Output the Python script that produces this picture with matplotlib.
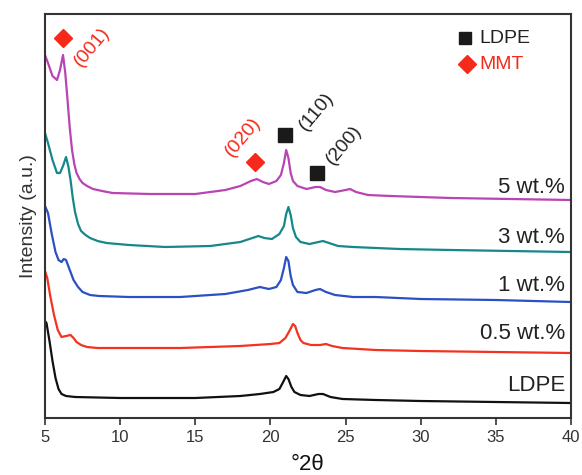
import matplotlib
matplotlib.use("Agg")
import matplotlib.pyplot as plt

plt.rcParams['font.family'] = ['Liberation Sans', 'DejaVu Sans']

# values (2theta, stacked intensity in a.u.)
tt_5 = [5.0, 5.2, 5.5, 5.8, 6.0, 6.2, 6.35, 6.5, 6.65, 6.8, 6.95, 7.1, 7.3, 7.5, 7.8,
        8.2, 8.8, 9.5, 12, 15, 17, 18, 18.7, 19.1, 19.5, 19.9, 20.4, 20.7, 20.9, 21.05,
        21.2, 21.35, 21.5, 21.8, 22.4, 23.0, 23.3, 23.7, 24.3, 25.0, 25.3, 25.7, 26.5,
        28, 32, 36, 40]
i_5 = [363, 355, 342, 338, 348, 363, 345, 318, 290, 268, 254, 245, 239, 235, 232,
       229, 227, 225, 224, 224, 228, 232, 237, 239, 236, 234, 237, 243, 255, 268,
       260, 245, 237, 232, 229, 231, 231, 228, 226, 228, 229, 226, 223,
       222, 220, 219, 218]

tt_3 = [5.0, 5.2, 5.5, 5.8, 6.0, 6.2, 6.4, 6.55, 6.7, 6.85, 7.0, 7.2, 7.4, 7.7, 8.0,
        8.5, 9.1, 10.6, 13, 16, 18, 18.8, 19.2, 19.6, 20.1, 20.6, 20.9, 21.05, 21.2,
        21.35, 21.5, 21.7, 22.0, 22.6, 23.2, 23.5, 23.9, 24.5, 25.5, 28.6, 32, 36, 40]
i_3 = [285, 275, 258, 245, 245, 252, 261, 252, 238, 220, 206, 194, 187, 183, 180,
       177, 175, 173, 171, 172, 176, 180, 182, 180, 179, 184, 192, 204, 211,
       203, 190, 181, 176, 174, 176, 177, 175, 172, 171, 169, 168, 167, 166]

tt_1 = [5.0, 5.2, 5.45, 5.7, 5.9, 6.1, 6.25, 6.4, 6.6, 6.9, 7.2, 7.5, 8.0, 8.6, 10.6,
        14, 17, 18.5, 19.3, 19.9, 20.4, 20.7, 20.9, 21.05, 21.2, 21.35, 21.5, 21.8,
        22.4, 23.0, 23.3, 23.7, 24.3, 25.5, 27, 30, 35, 40]
i_1 = [212, 205, 184, 166, 158, 156, 159, 158, 150, 138, 131, 126, 123, 122, 121,
       121, 124, 128, 131, 129, 131, 138, 150, 161, 157, 142, 133, 126,
       125, 128, 129, 126, 123, 121, 121, 119, 118, 116]

tt_05 = [5.0, 5.15, 5.35, 5.6, 5.85, 6.1, 6.4, 6.7, 6.9, 7.1, 7.4, 7.8, 8.5, 10.6, 14,
         18, 20.0, 20.6, 21.0, 21.3, 21.5, 21.65, 21.8, 22.0, 22.2, 22.7, 23.3, 23.7,
         24.1, 24.8, 27, 30, 35, 40]
i_05 = [147, 140, 122, 103, 88, 81, 82, 83, 80, 76, 73, 71, 70, 70, 70,
        72, 74, 75, 80, 88, 94, 92, 85, 78, 75, 73, 73, 74,
        72, 70, 68, 67, 66, 65]

tt_pe = [5.0, 5.1, 5.3, 5.5, 5.7, 5.9, 6.1, 6.4, 7.0, 10, 15, 18, 19.3, 20.2, 20.6,
         20.85, 21.05, 21.2, 21.4, 21.6, 22.0, 22.6, 23.2, 23.5, 24.0, 24.8, 27, 30,
         35, 40]
i_pe = [97, 95, 77, 57, 40, 29, 24, 22, 21, 20, 20, 22, 24, 26, 29,
        36, 42, 39, 31, 26, 23, 22, 24, 24, 21, 19, 18, 17,
        16, 15]

series = [
    (tt_5, i_5, '#b944b3', '5 wt.%', 231),
    (tt_3, i_3, '#16888a', '3 wt.%', 181),
    (tt_1, i_1, '#2b50c4', '1 wt.%', 133),
    (tt_05, i_05, '#f3321f', '0.5 wt.%', 85),
    (tt_pe, i_pe, '#111111', 'LDPE', 33),
]

red = '#f52a1a'

fig = plt.figure(figsize=(5.82, 4.75), dpi=100)
ax = fig.add_axes([0.0773, 0.12, 0.9037, 0.8505])

for tt, ii, col, lab, ylab in series:
    ax.plot(tt, ii, color=col, lw=1.6, solid_joinstyle='round')
    ax.text(39.6, ylab, lab, ha='right', va='center', fontsize=16, color='#222222')

# peak markers
ax.plot([6.2], [380], 'D', color=red, ms=9)
ax.plot([19.0], [256], 'D', color=red, ms=9)
ax.plot([21.0], [283], 's', color='#1a1a1a', ms=10)
ax.plot([23.1], [245], 's', color='#1a1a1a', ms=10)

ax.text(8.1, 371, '(001)', color=red, fontsize=14, rotation=50,
        ha='center', va='center', rotation_mode='anchor')
ax.text(18.2, 281, '(020)', color=red, fontsize=14, rotation=50,
        ha='center', va='center', rotation_mode='anchor')
ax.text(23.05, 306, '(110)', color='#222222', fontsize=14, rotation=50,
        ha='center', va='center', rotation_mode='anchor')
ax.text(24.9, 273, '(200)', color='#222222', fontsize=14, rotation=50,
        ha='center', va='center', rotation_mode='anchor')

# key in upper right
ax.plot([32.95], [380], 's', color='#1a1a1a', ms=9)
ax.text(33.9, 380, 'LDPE', color='#222222', fontsize=14, va='center')
ax.plot([33.1], [354], 'D', color=red, ms=9)
ax.text(33.9, 354, 'MMT', color=red, fontsize=14, va='center')

ax.set_xlim(5, 40)
ax.set_ylim(0, 404)
ax.set_xticks(range(5, 41, 5))
ax.set_yticks([])
ax.tick_params(axis='x', direction='out', length=5, width=1.2, labelsize=12,
               colors='#333333', pad=4)
for s in ax.spines.values():
    s.set_linewidth(1.5)
    s.set_color('#333333')

ax.set_ylabel('Intensity (a.u.)', fontsize=14, color='#333333', labelpad=6)
ax.set_xlabel('°2θ', fontsize=16, color='#111111', labelpad=6)

fig.savefig('out.png', dpi=100)
